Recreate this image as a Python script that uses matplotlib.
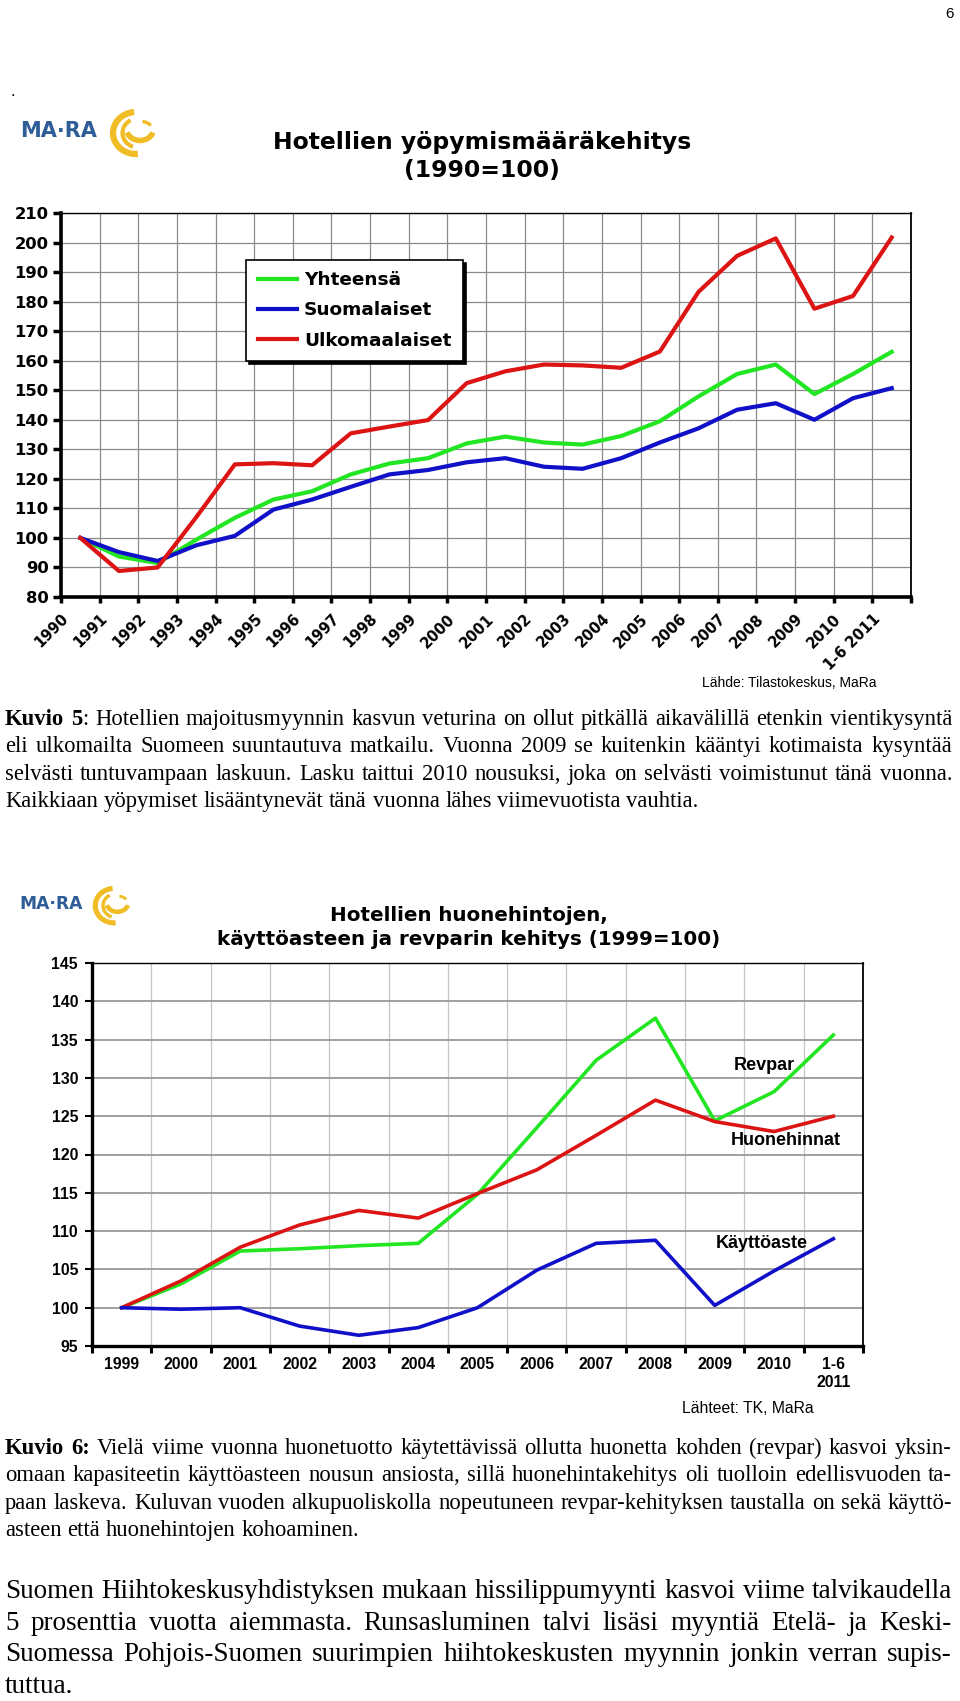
import matplotlib
matplotlib.use('Agg')
import matplotlib.pyplot as plt
from matplotlib.patches import Arc
from matplotlib.transforms import ScaledTranslation
import numpy as np

W, H = 960, 1701
SERIF = 'Liberation Serif'
ARIAL = 'Liberation Sans'
VERD = 'DejaVu Sans'

# --- chart 1: overnight stays (1990=100) ---
years1 = [str(y) for y in range(1990, 2011)] + ['1-6 2011']
yhteensa = [100, 93.7, 91.5, 99.4, 106.8, 113.0, 115.8, 121.5, 125.2, 127.0, 132.0,
            134.3, 132.3, 131.6, 134.5, 139.5, 147.9, 155.5, 158.7, 148.7, 155.5, 163.0]
suomalaiset = [100, 95.2, 92.2, 97.5, 100.7, 109.6, 113.0, 117.3, 121.5, 123.0, 125.6,
               127.0, 124.1, 123.4, 127.0, 132.3, 137.1, 143.4, 145.6, 140.0, 147.3, 150.7]
ulkomaalaiset = [100, 88.8, 90.0, 107.0, 124.9, 125.3, 124.6, 135.4, 137.7, 139.9, 152.4,
                 156.4, 158.7, 158.4, 157.6, 163.1, 183.3, 195.5, 201.4, 177.6, 181.9, 201.7]

# --- chart 2: room prices, occupancy, revpar (1999=100) ---
years2 = [str(y) for y in range(1999, 2011)] + ['1-6\n2011']
revpar = [100, 103.1, 107.4, 107.7, 108.1, 108.4, 114.8, 123.5, 132.3, 137.8, 124.4, 128.2, 135.6]
huonehinnat = [100, 103.5, 107.9, 110.8, 112.7, 111.7, 114.9, 118.0, 122.5, 127.1, 124.3, 123.0, 125.0]
kayttoaste = [100, 99.8, 100.0, 97.6, 96.4, 97.4, 100.0, 104.9, 108.4, 108.8, 100.3, 104.8, 109.0]

GREEN, BLUE, RED = '#22e622', '#1010c8', '#dc1414'

fig = plt.figure(figsize=(9.6, 17.01), dpi=100)
page = fig.add_axes([0, 0, 1, 1])
page.set_xlim(0, W)
page.set_ylim(H, 0)
page.axis('off')


def px_axes(l, t, r, b):
    return fig.add_axes([l / W, 1 - b / H, (r - l) / W, (b - t) / H])


def logo(x, y, s):
    page.text(x, y, 'MA·RA', color='#2f5d98', fontsize=15 * s, fontweight='bold',
              family=VERD, va='center', ha='left')
    cx = x + 116 * s
    yel = '#f0bd26'
    page.add_patch(Arc((cx, y + 2 * s), 46 * s, 42 * s, theta1=85, theta2=265, lw=4.5 * s, color=yel))
    page.add_patch(Arc((cx + 2 * s, y + 2 * s), 31 * s, 29 * s, theta1=110, theta2=240, lw=3 * s, color=yel))
    page.add_patch(Arc((cx + 4 * s, y - 2 * s), 27 * s, 23 * s, theta1=15, theta2=165, lw=4 * s, color=yel))
    page.add_patch(Arc((cx + 5 * s, y - 1 * s), 23 * s, 17 * s, theta1=-80, theta2=-25, lw=2.5 * s, color=yel))


renderer = fig.canvas.get_renderer()


def measure(txt, size, wt):
    t = page.text(0, 0, txt, fontsize=size, fontweight=wt, family=SERIF)
    w = t.get_window_extent(renderer).width
    t.remove()
    return w


def text_line(words, y, size, justify, x0=5, x1=952):
    runs_list = [w if isinstance(w, list) else [(w, 'normal')] for w in words]
    size_now = size
    for attempt in range(10):
        widths = [[measure(txt, size_now, wt) for txt, wt in runs] for runs in runs_list]
        total = sum(sum(ws) for ws in widths)
        space = size_now * 100 / 72 * 0.25
        n = len(words)
        gap = (x1 - x0 - total) / (n - 1) if (justify and n > 1) else space
        if gap >= space * 0.55:
            break
        size_now *= 0.985
    x = x0
    for runs, ws in zip(runs_list, widths):
        xx = x
        for (txt, wt), w_ in zip(runs, ws):
            page.text(xx, y, txt, fontsize=size_now, fontweight=wt, family=SERIF,
                      va='baseline', ha='left', color='black')
            xx += w_
        x += sum(ws) + gap


def paragraph(lines, first_words, y0, step, size):
    for i, line in enumerate(lines):
        words = line.split(' ')
        if i == 0 and first_words:
            words = first_words + words[len(first_words):]
        text_line(words, y0 + i * step, size, justify=(i < len(lines) - 1))


# page furniture
page.text(950, 14, '6', fontsize=11, family=ARIAL, ha='center', va='center')
page.text(11, 92, '.', fontsize=12, family=ARIAL, ha='left', va='center')
logo(20, 131, 1.0)

# ---------------- chart 1 ----------------
page.text(482, 142, 'Hotellien yöpymismääräkehitys', fontsize=16.9, fontweight='bold',
          family=VERD, ha='center', va='center')
page.text(482, 171, '(1990=100)', fontsize=16.9, fontweight='bold',
          family=VERD, ha='center', va='center')

ax1 = px_axes(61, 213, 911, 597)
x1 = np.arange(len(years1))
ax1.plot(x1, yhteensa, color=GREEN, lw=3, label='Yhteensä', zorder=3)
ax1.plot(x1, suomalaiset, color=BLUE, lw=3, label='Suomalaiset', zorder=3)
ax1.plot(x1, ulkomaalaiset, color=RED, lw=3, label='Ulkomaalaiset', zorder=3)
ax1.set_xlim(-0.5, len(years1) - 0.5)
ax1.set_ylim(80, 210)
ax1.set_yticks(range(80, 211, 10), labels=[str(v) for v in range(80, 211, 10)],
               fontsize=11.8, fontweight='bold', family=VERD)
ax1.set_xticks(np.arange(-0.5, len(years1)), labels=[])
ax1.set_xticks(x1, labels=years1, minor=True, rotation=45, ha='right', va='center',
               rotation_mode='anchor', fontsize=10.5, fontweight='bold', family=VERD)
ax1.tick_params(axis='x', which='major', length=4, width=2.5, direction='out')
ax1.tick_params(axis='x', which='minor', length=0, pad=14)
ax1.tick_params(axis='y', length=6, width=2.5, direction='out', pad=3)
for lab in ax1.get_xticklabels(minor=True):
    lab.set_transform(lab.get_transform() + ScaledTranslation(-0.14, 0, fig.dpi_scale_trans))
ax1.grid(True, which='major', color='#8a8a8a', lw=0.9)
ax1.set_axisbelow(True)
for side, lw in [('left', 2.6), ('bottom', 2.6), ('top', 1.0), ('right', 1.3)]:
    ax1.spines[side].set_linewidth(lw)
    ax1.spines[side].set_color('black')
leg = ax1.legend(loc='upper left', bbox_to_anchor=(0.218, 0.878), frameon=True, fancybox=False,
                 shadow={'color': 'black', 'alpha': 1}, edgecolor='black', framealpha=1,
                 prop={'weight': 'bold', 'size': 13.3, 'family': VERD}, handlelength=2.1,
                 handletextpad=0.4, labelspacing=0.66, borderpad=0.62, borderaxespad=0)
leg.get_frame().set_linewidth(1.2)

page.text(877, 683, 'Lähde: Tilastokeskus, MaRa', fontsize=10, family=ARIAL, ha='right', va='center')

kuvio5 = [
    'Kuvio 5: Hotellien majoitusmyynnin kasvun veturina on ollut pitkällä aikavälillä etenkin vientikysyntä',
    'eli ulkomailta Suomeen suuntautuva matkailu. Vuonna 2009 se kuitenkin kääntyi kotimaista kysyntää',
    'selvästi tuntuvampaan laskuun. Lasku taittui 2010 nousuksi, joka on selvästi voimistunut tänä vuonna.',
    'Kaikkiaan yöpymiset lisääntynevät tänä vuonna lähes viimevuotista vauhtia.',
]
paragraph(kuvio5, [[('Kuvio', 'bold')], [('5', 'bold'), (':', 'normal')]], 725, 27.3, 16.3)

# ---------------- chart 2 ----------------
logo(19, 904, 0.82)
page.text(469, 915, 'Hotellien huonehintojen,', fontsize=14.3, fontweight='bold',
          family=VERD, ha='center', va='center')
page.text(469, 939, 'käyttöasteen ja revparin kehitys (1999=100)', fontsize=14.3, fontweight='bold',
          family=VERD, ha='center', va='center')

ax2 = px_axes(92, 963, 863, 1346)
x2 = np.arange(len(years2))
ax2.plot(x2, revpar, color=GREEN, lw=2.6, zorder=3)
ax2.plot(x2, huonehinnat, color=RED, lw=2.6, zorder=3)
ax2.plot(x2, kayttoaste, color=BLUE, lw=2.6, zorder=3)
ax2.set_xlim(-0.5, len(years2) - 0.5)
ax2.set_ylim(95, 145)
ax2.set_yticks(range(95, 146, 5), labels=[str(v) for v in range(95, 146, 5)],
               fontsize=11.3, fontweight='bold', family=ARIAL)
ax2.set_xticks(np.arange(-0.5, len(years2)), labels=[])
ax2.set_xticks(x2, labels=years2, minor=True, fontsize=11.3, fontweight='bold', family=ARIAL,
               linespacing=1.25, va='top')
ax2.tick_params(axis='x', which='major', length=5, width=2.2, direction='out')
ax2.tick_params(axis='x', which='minor', length=0, pad=8)
ax2.tick_params(axis='y', length=5, width=1.5, direction='out', pad=5)
ax2.grid(True, axis='y', which='major', color='#999999', lw=1.3)
ax2.grid(True, axis='x', which='major', color='#c4c4c4', lw=0.9)
ax2.set_axisbelow(True)
for side, lw in [('left', 2.4), ('bottom', 2.4), ('top', 1.0), ('right', 1.3)]:
    ax2.spines[side].set_linewidth(lw)
    ax2.spines[side].set_color('black')
ax2.text(10.83, 131.6, 'Revpar', fontsize=13, fontweight='bold', family=ARIAL, ha='center', va='center')
ax2.text(11.2, 121.8, 'Huonehinnat', fontsize=13, fontweight='bold', family=ARIAL, ha='center', va='center')
ax2.text(10.8, 108.4, 'Käyttöaste', fontsize=13, fontweight='bold', family=ARIAL, ha='center', va='center')

page.text(814, 1408, 'Lähteet: TK, MaRa', fontsize=11.3, family=ARIAL, ha='right', va='center')

kuvio6 = [
    'Kuvio 6: Vielä viime vuonna huonetuotto käytettävissä ollutta huonetta kohden (revpar) kasvoi yksin-',
    'omaan kapasiteetin käyttöasteen nousun ansiosta, sillä huonehintakehitys oli tuolloin edellisvuoden ta-',
    'paan laskeva. Kuluvan vuoden alkupuoliskolla nopeutuneen revpar-kehityksen taustalla on sekä käyttö-',
    'asteen että huonehintojen kohoaminen.',
]
paragraph(kuvio6, [[('Kuvio', 'bold')], [('6:', 'bold')]], 1454, 27.4, 16.3)

hiihto = [
    'Suomen Hiihtokeskusyhdistyksen mukaan hissilippumyynti kasvoi viime talvikaudella',
    '5 prosenttia vuotta aiemmasta. Runsasluminen talvi lisäsi myyntiä Etelä- ja Keski-',
    'Suomessa Pohjois-Suomen suurimpien hiihtokeskusten myynnin jonkin verran supis-',
    'tuttua.',
]
paragraph(hiihto, None, 1598, 31.5, 19.5)

fig.savefig('out.png', dpi=100)
